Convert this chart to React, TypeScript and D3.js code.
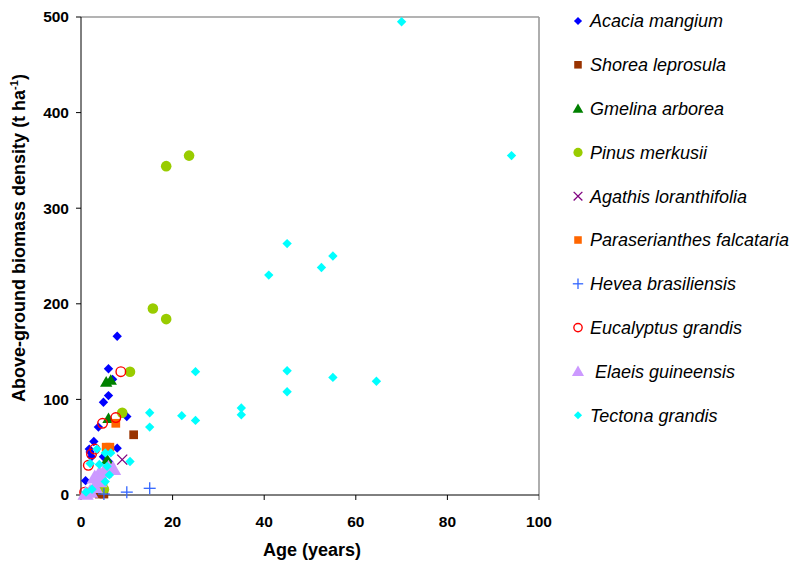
import * as d3 from "d3";
import React from "react";

// [age (years), above-ground biomass (t/ha)]
const acaciaMangium = [
  [1, 15], [2, 45], [2.3, 40], [2.8, 56], [3.8, 71], [4.9, 97], [6, 104], [6, 132],
  [6.9, 121], [7.9, 166], [10, 82], [7.9, 49], [4.9, 40], [6, 35], [1.8, 48],
];
const shoreaLeprosula = [[11.5, 63], [4, 1], [5, 1]];
const gmelinaArborea = [[5.5, 118], [6.5, 120], [6, 80], [5.7, 37]];
const pinusMerkusii = [
  [18.6, 344], [23.6, 355], [15.7, 195], [18.6, 184], [10.7, 129], [9, 86], [4.7, 13], [5, 6],
];
const agathisLoranthifolia = [[9, 37]];
const paraserianthesFalcataria = [[7.6, 75], [5.5, 50], [6.3, 50]];
const heveaBrasiliensis = [[5, 1], [10, 3], [15, 7]];
const eucalyptusGrandis = [[8.7, 129], [7.6, 81], [4.7, 75], [3, 48], [2.3, 43], [1.6, 31], [0.8, 3]];
const elaeisGuineensis = [[1, 1], [2, 3], [3, 8], [3, 18], [4, 22], [5, 24], [6, 28], [7, 27], [4, 14]];
const tectonaGrandis = [
  [70, 495], [94, 355], [45, 263], [41, 230], [55, 250], [52.5, 238], [45, 130], [45, 108],
  [55, 123], [64.5, 119], [35, 91], [35, 84], [25, 129], [25, 78], [22, 83], [15, 86],
  [15, 71], [10.7, 35], [5.3, 44], [6.5, 44], [2, 33], [4, 32], [5.7, 30], [6.2, 21],
  [5.3, 14], [2.4, 6], [1.1, 3], [3.5, 48],
];

const xTicks = [0, 20, 40, 60, 80, 100];
const yTicks = [0, 100, 200, 300, 400, 500];

const series = [
  { name: "Acacia mangium", data: acaciaMangium, shape: "diamond", color: "#0000FF" },
  { name: "Shorea leprosula", data: shoreaLeprosula, shape: "square", color: "#993300" },
  { name: "Gmelina arborea", data: gmelinaArborea, shape: "triangle", color: "#008000" },
  { name: "Pinus merkusii", data: pinusMerkusii, shape: "circle", color: "#99CC00" },
  { name: "Agathis loranthifolia", data: agathisLoranthifolia, shape: "x", color: "#800080" },
  { name: "Paraserianthes falcataria", data: paraserianthesFalcataria, shape: "square", color: "#FF6600" },
  { name: "Hevea brasiliensis", data: heveaBrasiliensis, shape: "plus", color: "#3366FF" },
  { name: "Eucalyptus grandis", data: eucalyptusGrandis, shape: "ocircle", color: "#FF0000" },
  { name: " Elaeis guineensis", data: elaeisGuineensis, shape: "bigtriangle", color: "#CC99FF" },
  { name: "Tectona grandis", data: tectonaGrandis, shape: "diamond", color: "#00FFFF" },
];

const W = 794;
const H = 562;
const left = 81, right = 539, top = 17, bottom = 495;

const x = d3.scaleLinear().domain([0, 100]).range([left, right]);
const y = d3.scaleLinear().domain([0, 500]).range([bottom, top]);

const symbolPath = (shape: string, size: number) => {
  const s = shape === "diamond" ? d3.symbolDiamond2
    : shape === "square" ? d3.symbolSquare
    : shape === "triangle" || shape === "bigtriangle" ? d3.symbolTriangle
    : shape === "x" ? d3.symbolX
    : shape === "plus" ? d3.symbolPlus
    : d3.symbolCircle;
  return d3.symbol(s, size)() as string;
};

const Marker = ({ shape, color, cx, cy, scale = 1 }: any) => {
  const sizes: Record<string, number> = {
    diamond: 56, square: 76, triangle: 66, circle: 88, x: 70, plus: 90, ocircle: 70, bigtriangle: 115,
  };
  const d = symbolPath(shape, sizes[shape] * scale);
  const dy = shape === "triangle" || shape === "bigtriangle" ? 1 : 0;
  if (shape === "x" || shape === "plus") {
    const r = (shape === "x" ? 5 : 6) * Math.sqrt(scale);
    const lines = shape === "x"
      ? [[-r, -r, r, r], [-r, r, r, -r]]
      : [[-r, 0, r, 0], [0, -r, 0, r]];
    return (
      <g transform={`translate(${cx},${cy})`}>
        {lines.map((l, i) => (
          <line key={i} x1={l[0]} y1={l[1]} x2={l[2]} y2={l[3]} stroke={color} strokeWidth={1.3} />
        ))}
      </g>
    );
  }
  if (shape === "ocircle") {
    return <circle cx={cx} cy={cy} r={4.8 * Math.sqrt(scale)} fill="none" stroke={color} strokeWidth={1.4} />;
  }
  return <path d={d} transform={`translate(${cx},${cy + dy})`} fill={color} />;
};

export default function App() {
  return (
    <svg width={W} height={H} style={{ position: "absolute", left: 0, top: 0, background: "#fff" }}
      fontFamily="'Liberation Sans', Arial, sans-serif">
      <rect width={W} height={H} fill="#fff" />
      {/* plot frame */}
      <line x1={left} y1={top} x2={right} y2={top} stroke="#9a9a9a" strokeWidth={1.6} />
      <line x1={right} y1={top} x2={right} y2={bottom + 5} stroke="#9a9a9a" strokeWidth={1.6} />
      <line x1={left} y1={top} x2={left} y2={bottom} stroke="#000" />
      <line x1={left} y1={bottom} x2={right} y2={bottom} stroke="#000" />

      {yTicks.map((t) => (
        <g key={t}>
          <line x1={left - 5} x2={left} y1={y(t)} y2={y(t)} stroke="#000" />
          <text x={69} y={y(t)} dy="0.35em" textAnchor="end" fontSize={15.5} fontWeight="bold">{t}</text>
        </g>
      ))}
      {xTicks.map((t) => (
        <g key={t}>
          {t < 100 && <line x1={x(t)} x2={x(t)} y1={bottom} y2={bottom + 5} stroke="#000" />}
          <text x={x(t)} y={527} textAnchor="middle" fontSize={15.5} fontWeight="bold">{t}</text>
        </g>
      ))}

      <text x={312} y={556} textAnchor="middle" fontSize={18} fontWeight="bold">Age (years)</text>
      <text transform="translate(25,238) rotate(-90)" textAnchor="middle" fontSize={18} fontWeight="bold">
        Above-ground biomass density (t ha<tspan dy={-7} fontSize={11}>-1</tspan><tspan dy={7}>)</tspan>
      </text>

      {series.map((s) => (
        <g key={s.name}>
          {s.data.map((p, i) => (
            <Marker key={i} shape={s.shape} color={s.color} cx={x(p[0])} cy={y(p[1])} />
          ))}
        </g>
      ))}

      {series.map((s, i) => {
        const ly = 21 + i * 43.8;
        return (
          <g key={s.name}>
            <Marker shape={s.shape} color={s.color} cx={578} cy={ly} scale={s.shape === "bigtriangle" ? 0.55 : 0.75} />
            <text x={590} y={ly} dy="0.35em" fontSize={18} fontStyle="italic" style={{ whiteSpace: "pre" }}>{s.name}</text>
          </g>
        );
      })}
    </svg>
  );
}
